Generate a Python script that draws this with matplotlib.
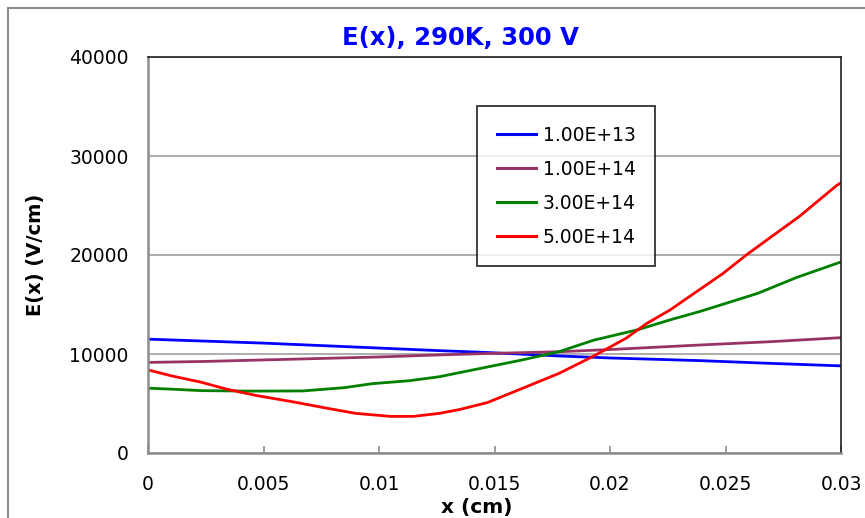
import matplotlib.pyplot as plt
from matplotlib.lines import Line2D

# E(x) profiles
x_1e13 = [0, 0.0025, 0.005, 0.0075, 0.01, 0.0125, 0.0147, 0.0178, 0.02, 0.0239, 0.027, 0.03]
e_1e13 = [11500, 11300, 11100, 10850, 10600, 10350, 10150, 9800, 9600, 9330, 9050, 8800]

x_1e14 = [0, 0.0025, 0.005, 0.0075, 0.01, 0.0125, 0.0147, 0.0178, 0.02, 0.0239, 0.027, 0.03]
e_1e14 = [9150, 9250, 9400, 9550, 9700, 9900, 10050, 10230, 10450, 10910, 11250, 11650]

x_3e14 = [0, 0.001, 0.0023, 0.0045, 0.0067, 0.0085, 0.0097, 0.0113, 0.0126, 0.0144,
          0.0162, 0.0178, 0.0193, 0.0212, 0.0226, 0.0239, 0.0264, 0.0281, 0.03]
e_3e14 = [6550, 6450, 6300, 6250, 6270, 6600, 7000, 7300, 7700, 8550,
          9400, 10240, 11400, 12450, 13450, 14300, 16130, 17750, 19300]

x_5e14 = [0, 0.001, 0.0023, 0.0034, 0.0047, 0.0062, 0.0078, 0.009, 0.0105, 0.0115,
          0.0126, 0.0135, 0.0147, 0.0167, 0.0178, 0.0193, 0.0207, 0.0216, 0.0226,
          0.0235, 0.0249, 0.0259, 0.0269, 0.0282, 0.0298, 0.03]
e_5e14 = [8400, 7800, 7150, 6450, 5800, 5200, 4500, 4000, 3700, 3700,
          4000, 4400, 5100, 7000, 8050, 9800, 11600, 13100, 14450,
          15900, 18150, 20000, 21700, 23900, 27000, 27300]

series = [
    ('1.00E+13', x_1e13, e_1e13, '#0000FF'),
    ('1.00E+14', x_1e14, e_1e14, '#993366'),
    ('3.00E+14', x_3e14, e_3e14, '#008000'),
    ('5.00E+14', x_5e14, e_5e14, '#FF0000'),
]

W, H = 865, 518
fig = plt.figure(figsize=(W / 100, H / 100), dpi=100)
ax = fig.add_axes([148 / W, 1 - 453 / H, (841 - 148) / W, (453 - 57) / H])

# outer chart frame (only top and left visible in the crop)
fig.add_artist(Line2D([8 / W, 8 / W], [0, 1 - 8 / H], color='#8c8c8c', lw=1.5))
fig.add_artist(Line2D([8 / W, 1], [1 - 8 / H, 1 - 8 / H], color='#8c8c8c', lw=1.5))

for label, xs, ys, c in series:
    ax.plot(xs, ys, color=c, lw=2.0, label=label)

ax.set_xlim(0, 0.03)
ax.set_ylim(0, 40000)
ax.set_xticks([0, 0.005, 0.01, 0.015, 0.02, 0.025, 0.03])
ax.set_xticklabels(['0', '0.005', '0.01', '0.015', '0.02', '0.025', '0.03'])
ax.set_yticks([0, 10000, 20000, 30000, 40000])
ax.yaxis.grid(True, color='#a0a0a0', lw=1.2)
ax.set_axisbelow(True)

for s in ('left', 'bottom'):
    ax.spines[s].set_color('#8c8c8c')
    ax.spines[s].set_linewidth(1.8)
for s in ('top', 'right'):
    ax.spines[s].set_color('#202020')
    ax.spines[s].set_linewidth(1.2)

ax.tick_params(axis='x', direction='in', length=5, width=1.2, color='#8c8c8c',
               pad=16, labelsize=13.5)
ax.tick_params(axis='y', length=0, pad=14, labelsize=13.5)

fig.text(460 / W, 1 - 38 / H, 'E(x), 290K, 300 V', color='#0000FF', fontsize=17.5,
         fontweight='bold', ha='center', va='center')
fig.text(35 / W, 1 - 255 / H, 'E(x) (V/cm)', fontsize=14, fontweight='bold',
         rotation=90, ha='center', va='center')
fig.text(477 / W, 1 - 507 / H, 'x (cm)', fontsize=14.5, fontweight='bold',
         ha='center', va='center')

leg = ax.legend(loc='upper left', bbox_to_anchor=(477 / W, 1 - 106 / H),
                bbox_transform=fig.transFigure, fontsize=13.5, frameon=True,
                fancybox=False, edgecolor='black', handlelength=2.1,
                handletextpad=0.35, labelspacing=0.8, borderpad=1.05, borderaxespad=0)
leg.get_frame().set_linewidth(1.3)
for ln in leg.get_lines():
    ln.set_linewidth(2.2)

fig.savefig('out.png', dpi=100)
